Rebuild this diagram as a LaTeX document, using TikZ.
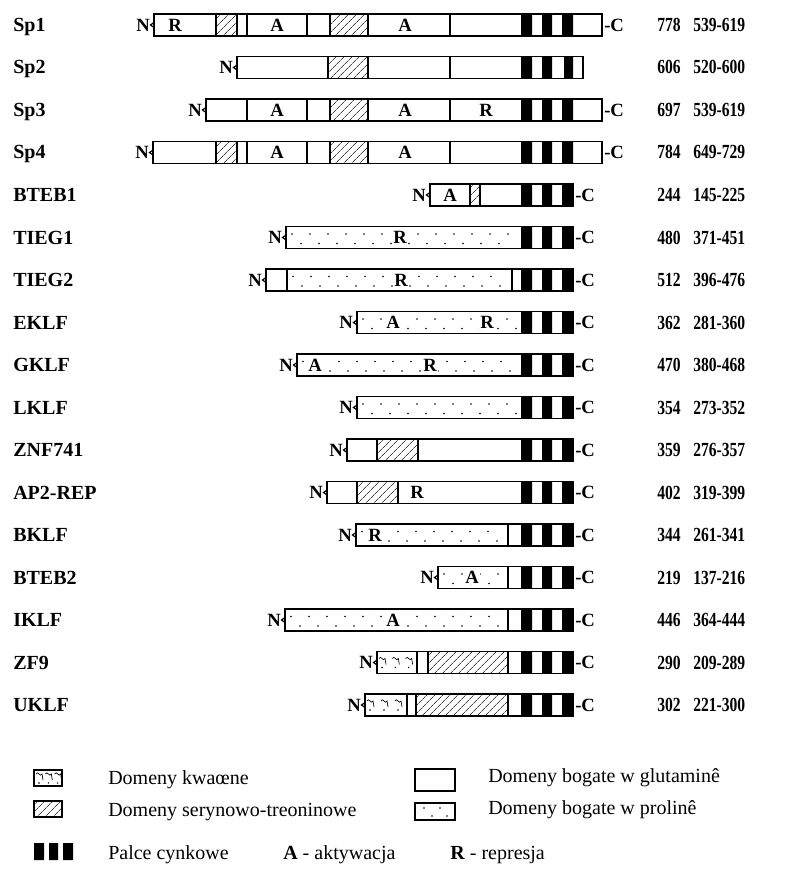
\documentclass[tikz,border=0pt]{standalone}
\usepackage{fontspec}
\setmainfont{Liberation Serif}
\usetikzlibrary{patterns,patterns.meta}
\newcommand\zf[1]{\fill (521,#1-11) rectangle (532,#1+11) (542,#1-11) rectangle (552,#1+11) (562,#1-11) rectangle (573,#1+11);}
\newcommand\divl[2]{\draw[box] (#1,#2-11) -- (#1,#2+11);}
\newcommand\hatchd[3]{\fill[hatchf] (#1,#3-11) rectangle (#2,#3+11); \draw[box] (#1,#3-11) -- (#1,#3+11) (#2,#3-11) -- (#2,#3+11);}
\newcommand\pdots[3]{%
 \pgfmathsetmacro\dA{#1+6}\pgfmathsetmacro\dB{#1+24}\pgfmathsetmacro\dE{#2-5}%
 \foreach \xx in {\dA,\dB,...,\dE}{\fill (\xx,#3-3.5) circle[radius=0.9];}%
 \pgfmathsetmacro\dA{#1+15}\pgfmathsetmacro\dB{#1+33}%
 \foreach \xx in {\dA,\dB,...,\dE}{\fill (\xx,#3+6) circle[radius=0.9];}%
}
\newcommand\acid[3]{%
 \pgfmathsetmacro\aw{(#2-#1)/3}%
 \foreach \k in {0,1,2}{%
   \pgfmathsetmacro\ax{#1+\k*\aw+2}%
   \draw[line width=0.5pt] (\ax,#3-4) .. controls (\ax+2,#3-8) and (\ax+4,#3) .. (\ax+6,#3-4) -- (\ax+7,#3+2);%
   \fill (\ax+3,#3+5) circle[radius=0.8];%
 }%
}
% #1 name, #2 label, #3 y, #4 start, #5 end, #6 C?, #7 length, #8 range
\newcommand\prow[8]{%
 \node[lab] (#1-lab) at (13,#3+6.5) {#2};
 \draw[box] (#4,#3-11) rectangle (#5,#3+11);
 \draw[box] (#4,#3-2.5) -- (#4-3.5,#3) -- (#4,#3+2.5);
 \node[nlab] (#1-N) at (#4-4,#3+6.2) {N};
 \ifnum#6=1 \node[clab] (#1-C) at (#5+2,#3+6.2) {-C};\fi
 \node[num] (#1-len) at (657,#3+6.5) {\scalebox{0.78}[1]{#7}};
 \node[num] (#1-rng) at (693,#3+6.5) {\scalebox{0.78}[1]{#8}};
}
\begin{document}
\begin{tikzpicture}[x=0.75pt,y=-0.75pt,
  box/.style={draw=black, line width=0.9pt},
  hatchf/.style={pattern={Lines[angle=45,distance=4pt,line width=0.5pt]}, pattern color=black!75},
  lab/.style={font=\bfseries\fontsize{15}{18}\selectfont, anchor=base west, inner sep=0pt},
  nlab/.style={font=\bfseries\fontsize{14}{16}\selectfont, anchor=base east, inner sep=0pt},
  clab/.style={font=\bfseries\fontsize{14}{16}\selectfont, anchor=base west, inner sep=0pt},
  dlab/.style={font=\bfseries\fontsize{14}{16}\selectfont, inner sep=0.6pt, fill=white},
  num/.style={font=\bfseries\fontsize{15}{18}\selectfont, anchor=base west, inner sep=0pt},
  leg/.style={font=\fontsize{15}{18}\selectfont, anchor=base west, inner sep=0pt}]
\fill[white] (0,0) rectangle (799,870);
\useasboundingbox (0,0) rectangle (799,870);

% Sp1
\hatchd{216}{237}{25}\hatchd{330}{368}{25}
\divl{247}{25}\divl{307}{25}\divl{450}{25}
\zf{25}
\node[dlab] (sp1-R) at (175,25) {R};
\node[dlab] (sp1-A1) at (277,25) {A};
\node[dlab] (sp1-A2) at (405,25) {A};
\prow{sp1}{Sp1}{25}{154}{602}{1}{778}{539-619}

% Sp2
\hatchd{328}{368}{67.5}\divl{450}{67.5}
\fill (521,56.5) rectangle (532,78.5) (542,56.5) rectangle (552,78.5) (564,56.5) rectangle (573,78.5);
\prow{sp2}{Sp2}{67.5}{237}{583}{0}{606}{520-600}

% Sp3
\divl{247}{110}\divl{307}{110}\hatchd{330}{368}{110}\divl{450}{110}
\zf{110}
\node[dlab] (sp3-A1) at (277,110) {A};
\node[dlab] (sp3-A2) at (405,110) {A};
\node[dlab] (sp3-R) at (486,110) {R};
\prow{sp3}{Sp3}{110}{206}{602}{1}{697}{539-619}

% Sp4
\hatchd{216}{237}{152.5}\divl{247}{152.5}\divl{307}{152.5}\hatchd{330}{368}{152.5}\divl{450}{152.5}
\zf{152.5}
\node[dlab] (sp4-A1) at (277,152.5) {A};
\node[dlab] (sp4-A2) at (405,152.5) {A};
\prow{sp4}{Sp4}{152.5}{153}{602}{1}{784}{649-729}

% BTEB1
\hatchd{470}{480}{195}
\zf{195}
\node[dlab] (bteb1-A) at (450,195) {A};
\prow{bteb1}{BTEB1}{195}{430}{573}{1}{244}{145-225}

% TIEG1
\pdots{286}{521}{237.5}
\zf{237.5}
\node[dlab] (tieg1-R) at (400,237.5) {R};
\prow{tieg1}{TIEG1}{237.5}{286}{573}{1}{480}{371-451}

% TIEG2
\divl{287}{280}\pdots{287}{512}{280}\divl{512}{280}
\zf{280}
\node[dlab] (tieg2-R) at (401,280) {R};
\prow{tieg2}{TIEG2}{280}{266}{573}{1}{512}{396-476}

% EKLF
\pdots{357}{521}{322.5}
\zf{322.5}
\node[dlab] (eklf-A) at (393,322.5) {A};
\node[dlab] (eklf-R) at (487,322.5) {R};
\prow{eklf}{EKLF}{322.5}{357}{573}{1}{362}{281-360}

% GKLF
\pdots{297}{521}{365}
\zf{365}
\node[dlab] (gklf-A) at (315,365) {A};
\node[dlab] (gklf-R) at (430,365) {R};
\prow{gklf}{GKLF}{365}{297}{573}{1}{470}{380-468}

% LKLF
\pdots{357}{521}{407.5}
\zf{407.5}
\prow{lklf}{LKLF}{407.5}{357}{573}{1}{354}{273-352}

% ZNF741
\hatchd{377}{418}{450}
\zf{450}
\prow{znf}{ZNF741}{450}{347}{573}{1}{359}{276-357}

% AP2-REP
\hatchd{357}{398}{492.5}
\zf{492.5}
\node[dlab] (ap2-R) at (417,492.5) {R};
\prow{ap2}{AP2-REP}{492.5}{327}{573}{1}{402}{319-399}

% BKLF
\pdots{356}{508}{535}\divl{508}{535}
\zf{535}
\node[dlab] (bklf-R) at (375,535) {R};
\prow{bklf}{BKLF}{535}{356}{573}{1}{344}{261-341}

% BTEB2
\pdots{438}{508}{577.5}\divl{508}{577.5}
\zf{577.5}
\node[dlab] (bteb2-A) at (472,577.5) {A};
\prow{bteb2}{BTEB2}{577.5}{438}{573}{1}{219}{137-216}

% IKLF
\pdots{285}{508}{620}\divl{508}{620}
\zf{620}
\node[dlab] (iklf-A) at (393,620) {A};
\prow{iklf}{IKLF}{620}{285}{573}{1}{446}{364-444}

% ZF9
\acid{377}{417}{662.5}\divl{417}{662.5}\hatchd{428}{508}{662.5}
\zf{662.5}
\prow{zf9}{ZF9}{662.5}{377}{573}{1}{290}{209-289}

% UKLF
\acid{365}{407}{705}\divl{407}{705}\hatchd{416}{508}{705}
\zf{705}
\prow{uklf}{UKLF}{705}{365}{573}{1}{302}{221-300}

% Legend
\acid{34}{62}{778}
\draw[box] (34,770) rectangle (62,786);
\node[leg] (lg1) at (108,784) {Domeny kwaœne};
\fill[hatchf] (34,801) rectangle (62,817);
\draw[box] (34,801) rectangle (62,817);
\node[leg] (lg2) at (108,816) {Domeny serynowo-treoninowe};
\draw[box] (415,769) rectangle (455,791);
\node[leg] (lg3) at (488,782) {Domeny bogate w glutaminê};
\draw[box] (415,803) rectangle (455,820);
\fill (424,808) circle[radius=0.9] (440,808) circle[radius=0.9] (432,816) circle[radius=0.9] (447,816) circle[radius=0.9];
\node[leg] (lg4) at (488,814) {Domeny bogate w prolinê};
\fill (34,843) rectangle (44,860) (49,843) rectangle (58,860) (63,843) rectangle (73,860);
\node[leg] (lg5) at (108,859) {Palce cynkowe};
\node[leg] (lg6) at (283,859) {\textbf{A} - aktywacja};
\node[leg] (lg7) at (450,859) {\textbf{R} - represja};
\end{tikzpicture}
\end{document}
